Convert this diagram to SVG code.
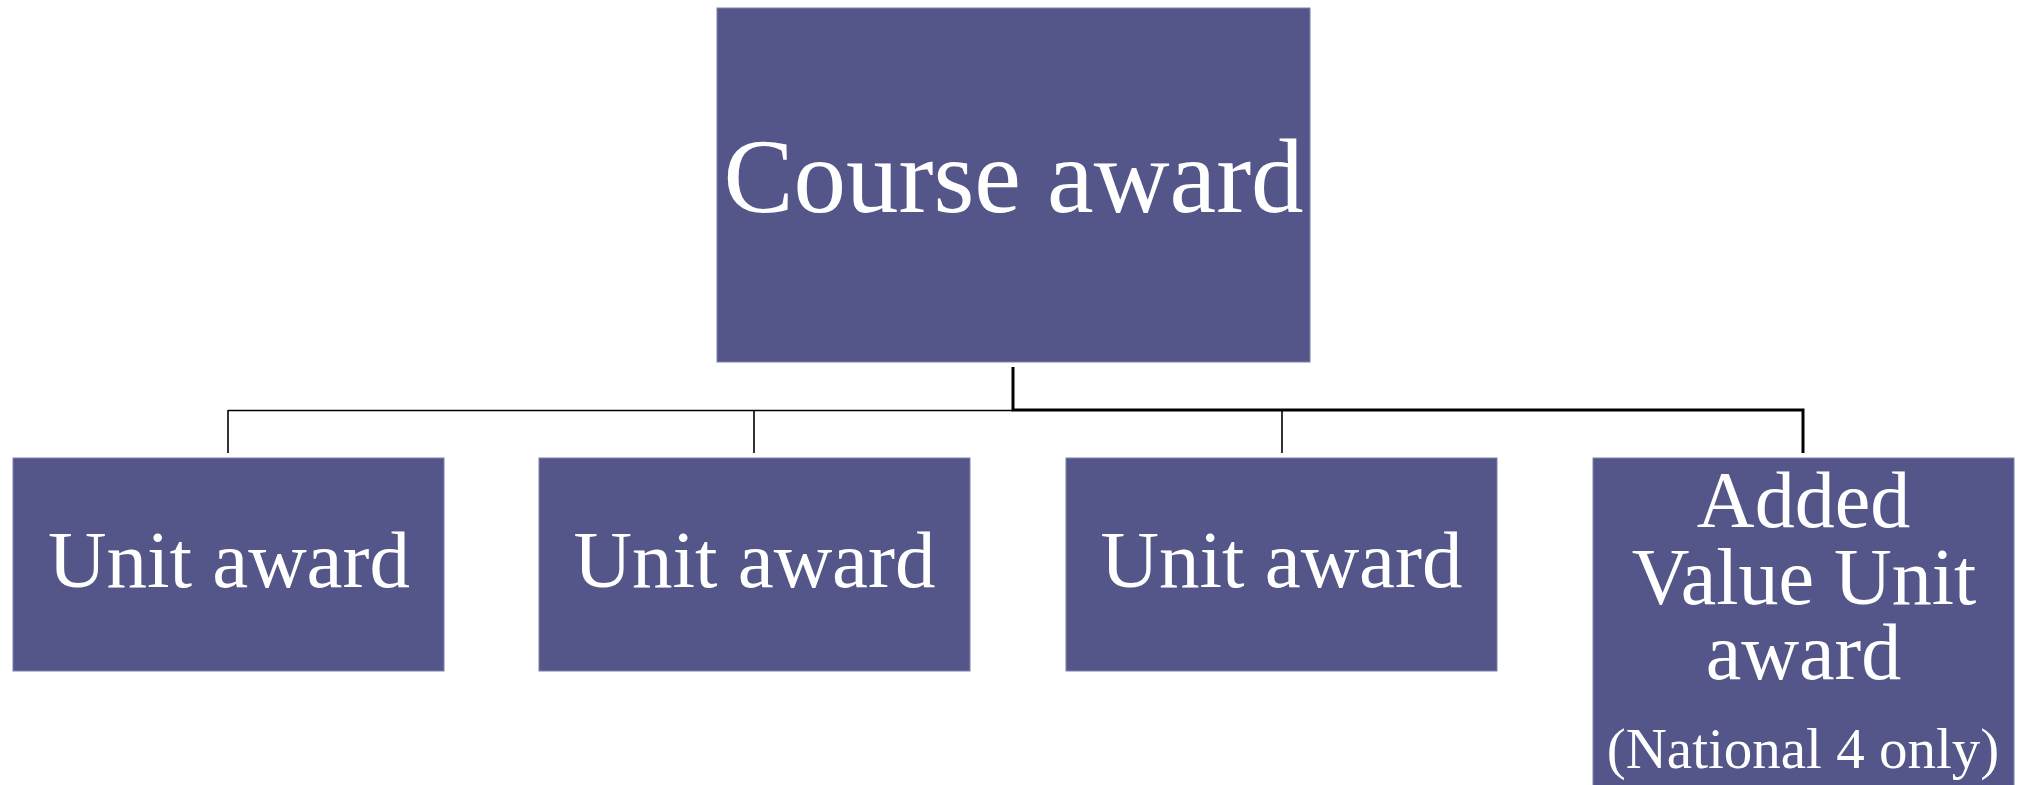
<svg xmlns="http://www.w3.org/2000/svg" width="2018" height="785" viewBox="0 0 2018 785">
<style>
.box{fill:#54568A;stroke:#7E80AA;stroke-width:1}
.t{font-family:"Liberation Serif","Times New Roman",serif;fill:#ffffff;text-anchor:middle}
.thin{stroke:#000;stroke-width:1.6;fill:none}
.thick{stroke:#000;stroke-width:3;fill:none}
</style>
<rect width="2018" height="785" fill="#ffffff"/>
<g id="connectors">
<path class="thin" d="M228,410.5 H1013 M228,410 V453 M754,410 V453 M1282,410 V453"/>
<path class="thick" d="M1013,367 V410 H1803 V453"/>
</g>
<g id="course">
<rect class="box" x="717" y="8" width="593" height="354"/>
<text class="t" x="1013.5" y="212" font-size="105">Course award</text>
</g>
<g id="unit1">
<rect class="box" x="13" y="458" width="431" height="213"/>
<text class="t" x="229" y="587" font-size="81">Unit award</text>
</g>
<g id="unit2">
<rect class="box" x="539" y="458" width="431" height="213"/>
<text class="t" x="754.5" y="587" font-size="81">Unit award</text>
</g>
<g id="unit3">
<rect class="box" x="1066" y="458" width="431" height="213"/>
<text class="t" x="1281.5" y="587" font-size="81">Unit award</text>
</g>
<g id="addedvalue">
<rect class="box" x="1593" y="458" width="421" height="330"/>
<text class="t" x="1803.5" y="527" font-size="80">Added</text>
<text class="t" x="1804" y="604" font-size="80">Value Unit</text>
<text class="t" x="1803.5" y="679" font-size="80">award</text>
<text class="t" x="1803" y="768" font-size="57">(National 4 only)</text>
</g>
</svg>
